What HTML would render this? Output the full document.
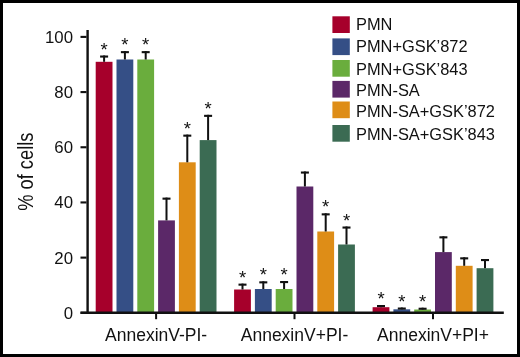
<!DOCTYPE html>
<html><head><meta charset="utf-8"><style>
html,body{margin:0;padding:0;background:#fff;}
body{width:520px;height:357px;overflow:hidden;}
svg{display:block;will-change:transform;}
text{font-family:"Liberation Sans",sans-serif;fill:#111;}
</style></head><body>
<svg width="520" height="357" viewBox="0 0 520 357">
<rect x="0" y="0" width="520" height="357" fill="#fff"/>

<rect x="95.70" y="61.80" width="16.8" height="250.70" fill="#A6002B"/>
<rect x="103.10" y="55.50" width="2" height="6.30" fill="#111"/>
<rect x="100.10" y="55.50" width="8" height="2.1" fill="#111"/>
<text x="104.10" y="55.50" font-size="18.5" text-anchor="middle">*</text>
<rect x="116.50" y="59.50" width="16.8" height="253.00" fill="#354F86"/>
<rect x="123.90" y="51.10" width="2" height="8.40" fill="#111"/>
<rect x="120.90" y="51.10" width="8" height="2.1" fill="#111"/>
<text x="124.90" y="51.10" font-size="18.5" text-anchor="middle">*</text>
<rect x="137.30" y="59.50" width="16.8" height="253.00" fill="#6AAD3D"/>
<rect x="144.70" y="51.10" width="2" height="8.40" fill="#111"/>
<rect x="141.70" y="51.10" width="8" height="2.1" fill="#111"/>
<text x="145.70" y="51.10" font-size="18.5" text-anchor="middle">*</text>
<rect x="158.10" y="220.40" width="16.8" height="92.10" fill="#5B2868"/>
<rect x="165.50" y="197.60" width="2" height="22.80" fill="#111"/>
<rect x="162.50" y="197.60" width="8" height="2.1" fill="#111"/>
<rect x="178.90" y="162.30" width="16.8" height="150.20" fill="#DE8D17"/>
<rect x="186.30" y="134.60" width="2" height="27.70" fill="#111"/>
<rect x="183.30" y="134.60" width="8" height="2.1" fill="#111"/>
<text x="187.30" y="134.60" font-size="18.5" text-anchor="middle">*</text>
<rect x="199.70" y="140.10" width="16.8" height="172.40" fill="#3B6B53"/>
<rect x="207.10" y="114.80" width="2" height="25.30" fill="#111"/>
<rect x="204.10" y="114.80" width="8" height="2.1" fill="#111"/>
<text x="208.10" y="114.80" font-size="18.5" text-anchor="middle">*</text>
<rect x="234.10" y="289.50" width="16.8" height="23.00" fill="#A6002B"/>
<rect x="241.50" y="283.60" width="2" height="5.90" fill="#111"/>
<rect x="238.50" y="283.60" width="8" height="2.1" fill="#111"/>
<text x="242.50" y="283.60" font-size="18.5" text-anchor="middle">*</text>
<rect x="254.90" y="289.00" width="16.8" height="23.50" fill="#354F86"/>
<rect x="262.30" y="281.30" width="2" height="7.70" fill="#111"/>
<rect x="259.30" y="281.30" width="8" height="2.1" fill="#111"/>
<text x="263.30" y="281.30" font-size="18.5" text-anchor="middle">*</text>
<rect x="275.70" y="289.00" width="16.8" height="23.50" fill="#6AAD3D"/>
<rect x="283.10" y="281.00" width="2" height="8.00" fill="#111"/>
<rect x="280.10" y="281.00" width="8" height="2.1" fill="#111"/>
<text x="284.10" y="281.00" font-size="18.5" text-anchor="middle">*</text>
<rect x="296.50" y="186.50" width="16.8" height="126.00" fill="#5B2868"/>
<rect x="303.90" y="171.50" width="2" height="15.00" fill="#111"/>
<rect x="300.90" y="171.50" width="8" height="2.1" fill="#111"/>
<rect x="317.30" y="231.50" width="16.8" height="81.00" fill="#DE8D17"/>
<rect x="324.70" y="213.30" width="2" height="18.20" fill="#111"/>
<rect x="321.70" y="213.30" width="8" height="2.1" fill="#111"/>
<text x="325.70" y="213.30" font-size="18.5" text-anchor="middle">*</text>
<rect x="338.10" y="244.50" width="16.8" height="68.00" fill="#3B6B53"/>
<rect x="345.50" y="226.50" width="2" height="18.00" fill="#111"/>
<rect x="342.50" y="226.50" width="8" height="2.1" fill="#111"/>
<text x="346.50" y="226.50" font-size="18.5" text-anchor="middle">*</text>
<rect x="372.60" y="307.20" width="16.8" height="5.30" fill="#A6002B"/>
<rect x="380.00" y="305.00" width="2" height="2.20" fill="#111"/>
<rect x="377.00" y="305.00" width="8" height="2.1" fill="#111"/>
<text x="381.00" y="305.00" font-size="18.5" text-anchor="middle">*</text>
<rect x="393.40" y="309.30" width="16.8" height="3.20" fill="#354F86"/>
<rect x="400.80" y="307.50" width="2" height="1.80" fill="#111"/>
<rect x="397.80" y="307.50" width="8" height="2.1" fill="#111"/>
<text x="401.80" y="307.50" font-size="18.5" text-anchor="middle">*</text>
<rect x="414.20" y="309.50" width="16.8" height="3.00" fill="#6AAD3D"/>
<rect x="421.60" y="307.70" width="2" height="1.80" fill="#111"/>
<rect x="418.60" y="307.70" width="8" height="2.1" fill="#111"/>
<text x="422.60" y="307.70" font-size="18.5" text-anchor="middle">*</text>
<rect x="435.00" y="252.10" width="16.8" height="60.40" fill="#5B2868"/>
<rect x="442.40" y="236.30" width="2" height="15.80" fill="#111"/>
<rect x="439.40" y="236.30" width="8" height="2.1" fill="#111"/>
<rect x="455.80" y="265.80" width="16.8" height="46.70" fill="#DE8D17"/>
<rect x="463.20" y="257.30" width="2" height="8.50" fill="#111"/>
<rect x="460.20" y="257.30" width="8" height="2.1" fill="#111"/>
<rect x="476.60" y="268.20" width="16.8" height="44.30" fill="#3B6B53"/>
<rect x="484.00" y="259.00" width="2" height="9.20" fill="#111"/>
<rect x="481.00" y="259.00" width="8" height="2.1" fill="#111"/>
<rect x="86.4" y="30.0" width="2.4" height="284.0" fill="#111"/>
<rect x="80.5" y="311.5" width="423.3" height="2.5" fill="#111"/>
<rect x="80.5" y="311.75" width="6" height="2.1" fill="#111"/>
<text x="73.0" y="318.70" font-size="16.8" text-anchor="end">0</text>
<rect x="80.5" y="256.57" width="6" height="2.1" fill="#111"/>
<text x="73.0" y="263.52" font-size="16.8" text-anchor="end">20</text>
<rect x="80.5" y="201.39" width="6" height="2.1" fill="#111"/>
<text x="73.0" y="208.34" font-size="16.8" text-anchor="end">40</text>
<rect x="80.5" y="146.21" width="6" height="2.1" fill="#111"/>
<text x="73.0" y="153.16" font-size="16.8" text-anchor="end">60</text>
<rect x="80.5" y="91.03" width="6" height="2.1" fill="#111"/>
<text x="73.0" y="97.98" font-size="16.8" text-anchor="end">80</text>
<rect x="80.5" y="35.85" width="6" height="2.1" fill="#111"/>
<text x="73.0" y="42.80" font-size="16.8" text-anchor="end">100</text>
<rect x="155.10" y="312.5" width="2" height="6.70" fill="#111"/>
<text x="156.10" y="340.8" font-size="17.5" text-anchor="middle">AnnexinV-PI-</text>
<rect x="293.50" y="312.5" width="2" height="6.70" fill="#111"/>
<text x="294.50" y="340.8" font-size="17.5" text-anchor="middle">AnnexinV+PI-</text>
<rect x="432.00" y="312.5" width="2" height="6.70" fill="#111"/>
<text x="433.00" y="340.8" font-size="17.5" text-anchor="middle">AnnexinV+PI+</text>
<text transform="translate(33.1,171.7) rotate(-90) scale(0.85,1)" font-size="21.5" text-anchor="middle">% of cells</text>
<rect x="332.4" y="16.30" width="17.4" height="16.7" fill="#A6002B"/>
<text x="356.0" y="30.30" font-size="16.4">PMN</text>
<rect x="332.4" y="38.40" width="17.4" height="16.7" fill="#354F86"/>
<text x="356.0" y="52.40" font-size="16.4">PMN+GSK’872</text>
<rect x="332.4" y="60.00" width="17.4" height="16.7" fill="#6AAD3D"/>
<text x="356.0" y="74.50" font-size="16.4">PMN+GSK’843</text>
<rect x="332.4" y="80.90" width="17.4" height="16.7" fill="#5B2868"/>
<text x="356.0" y="95.80" font-size="16.4">PMN-SA</text>
<rect x="332.4" y="101.50" width="17.4" height="16.7" fill="#DE8D17"/>
<text x="356.0" y="116.50" font-size="16.4">PMN-SA+GSK’872</text>
<rect x="332.4" y="125.00" width="17.4" height="16.7" fill="#3B6B53"/>
<text x="356.0" y="139.50" font-size="16.4">PMN-SA+GSK’843</text>
<rect x="1.5" y="1.5" width="517" height="354" fill="none" stroke="#000" stroke-width="3"/>
</svg></body></html>
